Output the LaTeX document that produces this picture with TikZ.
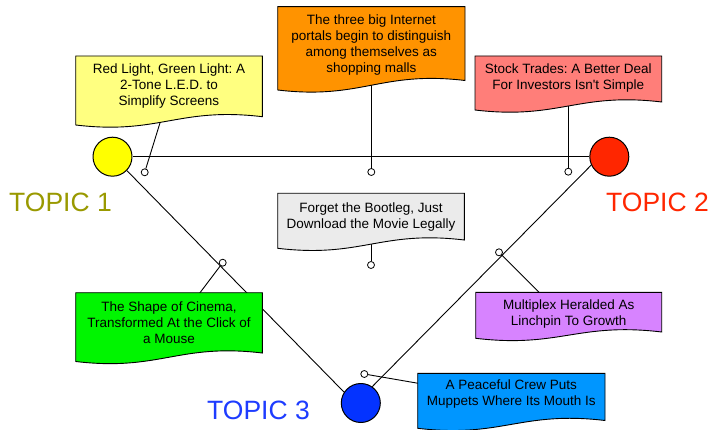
\documentclass[tikz,border=0pt]{standalone}
\usepackage{fontspec}
\setmainfont{Liberation Sans}
\frenchspacing
\pgfdeclarelayer{bg}
\pgfsetlayers{bg,main}
\definecolor{cYel}{RGB}{255,255,0}
\definecolor{cRed}{RGB}{255,38,0}
\definecolor{cBlu}{RGB}{4,51,255}
\definecolor{tOlive}{RGB}{153,153,0}
\definecolor{tRed}{RGB}{255,38,0}
\definecolor{tBlu}{RGB}{30,60,255}
\definecolor{fYel}{RGB}{255,255,128}
\definecolor{fOra}{RGB}{255,147,0}
\definecolor{fSal}{RGB}{255,126,121}
\definecolor{fGra}{RGB}{235,235,235}
\definecolor{fGrn}{RGB}{0,245,0}
\definecolor{fPur}{RGB}{215,131,255}
\definecolor{fBlu}{RGB}{0,150,255}
\newcommand\docbox[6]{\path[boxline, fill=#6] (#1,#2) -- (#3,#2) -- (#3,#5) .. controls ({#1+0.55*(#3-#1)},{#5-10}) and ({#1+0.45*(#3-#1)},{#4+10}) .. (#1,#4) -- cycle;}
\begin{document}
\frenchspacing
\begin{tikzpicture}[x=1pt,y=-1pt,line join=round,
  conn/.style={draw=black,line width=0.9pt},
  boxline/.style={draw=black,line width=0.9pt},
  txt/.style={align=center,font=\fontsize{13.5}{16}\selectfont,inner sep=0pt},
  topic/.style={circle,draw=black,line width=1pt,minimum size=39pt,inner sep=0pt},
  pin/.style={circle,draw=black,fill=white,line width=0.8pt,minimum size=7pt,inner sep=0pt},
  ttl/.style={font=\fontsize{26.5}{30}\selectfont,anchor=base west,inner sep=0pt}]
\useasboundingbox (0,0) rectangle (714,430);
% topic circles
\node[topic,fill=cYel] (Y) at (112.5,156.7) {};
\node[topic,fill=cRed] (R) at (609.3,156.7) {};
\node[topic,fill=cBlu] (B) at (360.8,403) {};
% topic titles
\node[ttl,text=tOlive] (T1) at (9,212) {TOPIC 1};
\node[ttl,text=tRed] (T2) at (606,212) {TOPIC 2};
\node[ttl,text=tBlu] (T3) at (207,419.3) {TOPIC 3};
% pins
\node[pin] (p1) at (144.7,172.3) {};
\node[pin] (p2) at (371.3,172) {};
\node[pin] (p3) at (568.3,171.7) {};
\node[pin] (p4) at (371,265) {};
\node[pin] (p5) at (222.7,262.7) {};
\node[pin] (p6) at (499,252.3) {};
\node[pin] (p7) at (364.3,374) {};
% attach points inside callouts
\coordinate (b1) at (161.5,118);
\coordinate (b2) at (371.3,80);
\coordinate (b3) at (568.3,100);
\coordinate (b4) at (371,238);
\coordinate (b5) at (196,298);
\coordinate (b6) at (545,298.3);
\coordinate (b7) at (424,384.3);
% callout texts
\node[txt] (t1) at (169,86.5) {Red Light, Green Light: A\\2-Tone L.E.D. to\\Simplify Screens};
\node[txt] (t2) at (371.3,44.7) {The three big Internet\\portals begin to distinguish\\among themselves as\\shopping malls};
\node[txt] (t3) at (568.3,77.7) {Stock Trades: A Better Deal\\For Investors Isn\textquotesingle t Simple};
\node[txt] (t4) at (371,217.2) {Forget the Bootleg, Just\\Download the Movie Legally};
\node[txt] (t5) at (169,322.7) {The Shape of Cinema,\\Transformed At the Click of\\a Mouse};
\node[txt] (t6) at (568.7,314.2) {Multiplex Heralded As\\Linchpin To Growth};
\node[txt] (t7) at (511.3,393.8) {A Peaceful Crew Puts\\Muppets Where Its Mouth Is};
\begin{pgfonlayer}{bg}
% topic lines
\draw[conn] (Y.east) -- (R.west);
\draw[conn] (Y.-44.4) -- (B.147);
\draw[conn] (R.205) -- (B.55);
% callout connectors
\draw[conn] (p1) -- (b1);
\draw[conn] (p2) -- (b2);
\draw[conn] (p3) -- (b3);
\draw[conn] (p4) -- (b4);
\draw[conn] (p5) -- (b5);
\draw[conn] (p6) -- (b6);
\draw[conn] (p7) -- (b7);
% callout shapes
\docbox{75.7}{56}{262.3}{125}{116.7}{fYel}
\docbox{277.7}{6.7}{465}{90}{80.5}{fOra}
\docbox{475}{56}{661.7}{110}{102}{fSal}
\docbox{277.7}{193.3}{464.3}{248.3}{240}{fGra}
\docbox{75.7}{292.7}{262.3}{361.5}{353}{fGrn}
\docbox{475.7}{292.3}{661.7}{338.3}{332}{fPur}
\docbox{417.7}{373.3}{605}{428.3}{420.5}{fBlu}
\end{pgfonlayer}
\end{tikzpicture}
\end{document}
